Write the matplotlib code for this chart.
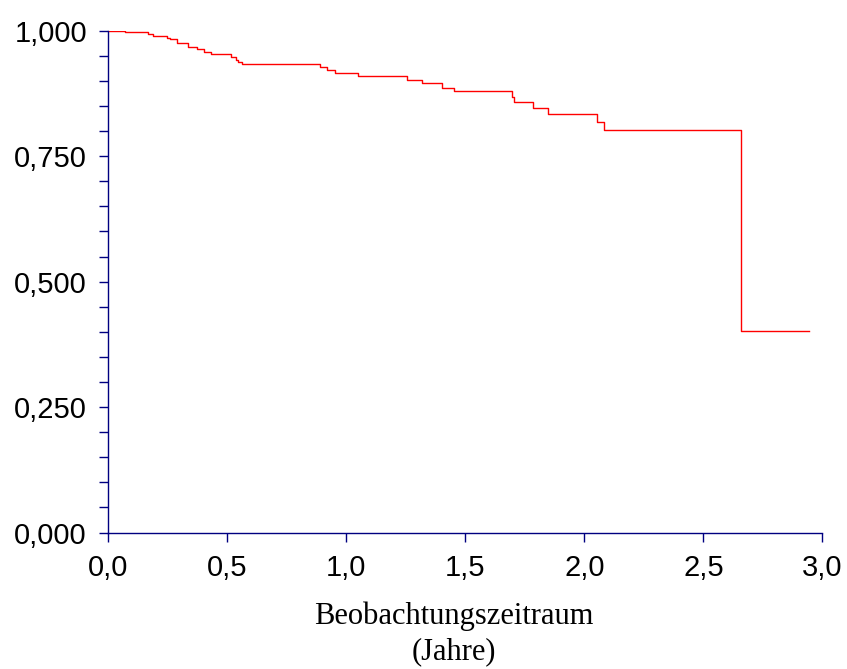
import matplotlib
matplotlib.use('Agg')
import matplotlib.pyplot as plt
from matplotlib.ticker import MultipleLocator, FuncFormatter

# Kaplan-Meier Schätzer: Zeitpunkte (Jahre) und Überlebensrate nach dem Ereignis
zeiten = [0.0, 0.070, 0.166, 0.189, 0.245, 0.259, 0.290, 0.336, 0.371, 0.402,
          0.430, 0.514, 0.537, 0.546, 0.561, 0.889, 0.918, 0.953, 1.048, 1.254,
          1.318, 1.403, 1.453, 1.695, 1.702, 1.786, 1.849, 2.052, 2.084, 2.657,
          2.945]
ueberleben = [1.000, 0.997, 0.993, 0.989, 0.986, 0.983, 0.975, 0.967, 0.963, 0.958,
              0.953, 0.948, 0.941, 0.937, 0.933, 0.928, 0.922, 0.915, 0.910, 0.902,
              0.895, 0.886, 0.879, 0.868, 0.858, 0.847, 0.835, 0.819, 0.803, 0.402,
              0.402]

achsen_farbe = '#000080'

fig = plt.figure(figsize=(8.47, 6.69), dpi=100)
ax = fig.add_axes([0.128, 0.204, 0.843, 0.750])

ax.plot(zeiten, ueberleben, drawstyle='steps-post', color='#FF0000', lw=1.0)

ax.set_xlim(0, 3.0)
ax.set_ylim(0, 1.0)
ax.xaxis.set_major_locator(MultipleLocator(0.5))
ax.yaxis.set_major_locator(MultipleLocator(0.25))
ax.yaxis.set_minor_locator(MultipleLocator(0.05))
ax.xaxis.set_major_formatter(FuncFormatter(lambda v, p: f'{v:.1f}'.replace('.', ',')))
ax.yaxis.set_major_formatter(FuncFormatter(lambda v, p: f'{v:.3f}'.replace('.', ',')))

for s in ['top', 'right']:
    ax.spines[s].set_visible(False)
for s in ['left', 'bottom']:
    ax.spines[s].set_color(achsen_farbe)
    ax.spines[s].set_linewidth(1.0)

ax.tick_params(axis='both', which='both', direction='out', length=6.5, width=1.0,
               color=achsen_farbe, labelsize=21, pad=9)
for lab in ax.get_xticklabels() + ax.get_yticklabels():
    lab.set_fontfamily('Liberation Sans')

ax.set_xlabel('Beobachtungszeitraum\n(Jahre)', family='Liberation Serif', fontsize=22,
              linespacing=1.25, va='top')
ax.xaxis.set_label_coords(0.484, -0.138)

plt.savefig('out.png', dpi=100)
